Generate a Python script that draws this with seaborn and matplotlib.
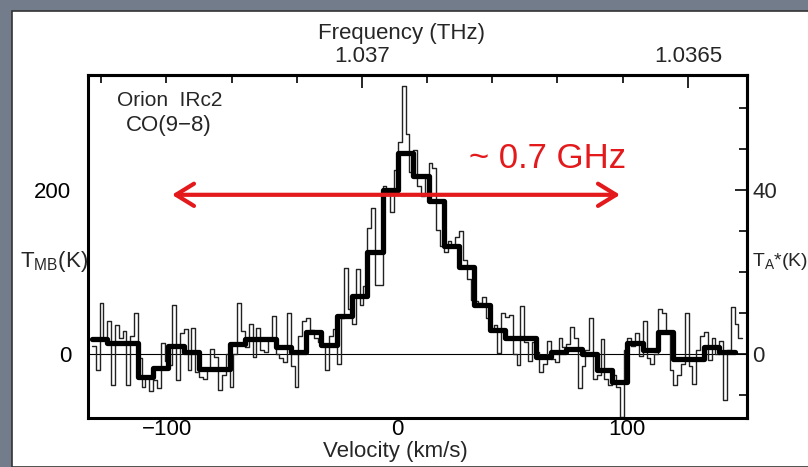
import numpy as np
import pandas as pd
import matplotlib
matplotlib.use("Agg")
import matplotlib.pyplot as plt
from matplotlib.patches import Rectangle
from matplotlib.ticker import FixedLocator, MultipleLocator
import seaborn as sns

# ---------------- data ----------------
# smoothed spectrum: channels of equal width, starting at smooth_start (km/s)
smooth_start = -132.6
smooth_width = 6.652
smooth_T = [18, 14, 14, -28, -17, 10, 3, -18, -18, 12, 18, 18, 9, 2,
            27, 11, 46, 71, 124, 200, 245, 217, 186, 132, 106, 60, 29, 20,
            20, -4, 2, 6, 0, -19, -34, 13, 5, 27, -6, -6, 9, 3]

# full-resolution spectrum: 4 channels per smoothed channel (+2 at the end)
raw_width = smooth_width / 4
raw_T = [10, -20, 62, 20,   40, -38, 35, 20,   28, -38, 22, 50,   -5, -40, -28, -45,
         -32, -42, 14, -8,  -13, 60, -32, 25,  30, -20, 32, -22,  -28, -30, -20, 6,
         -4, -44, -25, 0,   -40, 0, 62, 28,    8, 36, -4, 32,     5, 3, 18, 46,
         0, -5, -10, 50,    -15, -40, 22, 40,  44, 29, 20, 15,    10, -19, 22, 31,
         -12, 44, 105, 55,  37, 103, 60, 83,   153, 178, 84, 84,  205, 198, 173, 224,
         258, 327, 268, 222, 248, 205, 192, 215, 233, 227, 151, 132, 124, 138, 130, 142,
         150, 115, 92, 66,  64, 62, 70, 44,    30, 35, 1, 50,     45, 48, 0, -13,
         58, 15, -8, 15,    2, -22, -12, 16,   -6, -10, 19, 8,    12, 33, 20, -41,
         -15, 5, 44, -30,   -25, 18, -30, -38, -25, -40, -77, 5,  19, 10, 26, -3,
         40, -5, -12, 0,    55, 50, 25, -20,   -38, -25, -12, 50, -15, -36, 5, 22,
         27, -7, 20, 0,     16, -56, 5, 57,    36, 20]

# axes ranges and ticks
vel_lim = (-134.3, 152.2)
tmb_lim = (-78, 340)
vel_major = [-100, 0, 100]
vel_labels = ["\u2212100", "0", "100"]
tmb_major = [0, 200]
ta_major = [0, 40]
freq_major = [1.0365, 1.037]
freq_labels = ["1.0365", "1.037"]
freq_ref = 1.037      # THz at velocity freq_ref_v
freq_ref_v = -15.2    # km/s
freq_per_kms = 3.529e-6  # THz per km/s
ta_factor = 5.0       # T_MB = 5 * T_A*

arrow_v = (-97.8, 97.0)
arrow_T = 194
note_text = "~ 0.7 GHz"

# ---------------- style ----------------
sns.set_style("white")
plt.rcParams["font.family"] = ["Liberation Sans", "DejaVu Sans"]
plt.rcParams["mathtext.fontset"] = "custom"
plt.rcParams["mathtext.rm"] = "Liberation Sans"
plt.rcParams["mathtext.it"] = "Liberation Sans:italic"

W, H = 808, 467
fig = plt.figure(figsize=(W / 100, H / 100), dpi=100, facecolor="#737c8a")

def fx(x):
    return x / W

def fy(y):
    return 1 - y / H

fig.patches.append(Rectangle((fx(12), 0), 1, fy(11), transform=fig.transFigure,
                             facecolor="white", edgecolor="#333333", lw=1.2, zorder=-5))

ax = fig.add_axes([fx(88), fy(418), (747 - 88) / W, (418 - 75) / H])
ax.set_facecolor("none")
ax.set_zorder(2)

raw_edges = smooth_start + raw_width * np.arange(len(raw_T) + 1)
raw_df = pd.DataFrame({"v": raw_edges, "T": list(raw_T) + [raw_T[-1]]})
sm_edges = smooth_start + smooth_width * np.arange(len(smooth_T) + 1)
sm_df = pd.DataFrame({"v": sm_edges, "T": list(smooth_T) + [smooth_T[-1]]})

ax.axhline(0, color="black", lw=0.8, zorder=1)
sns.lineplot(data=raw_df, x="v", y="T", drawstyle="steps-post", color="#222222",
             lw=1.0, estimator=None, ax=ax, zorder=2)
sns.lineplot(data=sm_df, x="v", y="T", drawstyle="steps-post", color="black",
             lw=3.8, estimator=None, ax=ax, zorder=3)

ax.set_xlim(*vel_lim)
ax.set_ylim(*tmb_lim)
ax.set_xlabel("")
ax.set_ylabel("")

for s in ax.spines.values():
    s.set_linewidth(2.2)
    s.set_color("black")

ax.xaxis.set_major_locator(FixedLocator(vel_major))
ax.set_xticklabels(vel_labels)
ax.xaxis.set_minor_locator(MultipleLocator(20))
ax.yaxis.set_major_locator(FixedLocator(tmb_major))
ax.yaxis.set_minor_locator(MultipleLocator(50))
ax.tick_params(axis="both", which="both", direction="in", top=False, right=False,
               labelsize=16, colors="black", width=1.4)
ax.tick_params(axis="both", which="major", length=9)
ax.tick_params(axis="both", which="minor", length=6)
ax.tick_params(axis="x", which="major", pad=1)
ax.tick_params(axis="y", which="major", pad=12)

# top: frequency
def v2f(v):
    return freq_ref - (np.asarray(v) - freq_ref_v) * freq_per_kms

def f2v(f):
    return freq_ref_v + (freq_ref - np.asarray(f)) / freq_per_kms

sec_top = ax.secondary_xaxis("top", functions=(v2f, f2v))
sec_top.xaxis.set_major_locator(FixedLocator(freq_major))
sec_top.set_xticklabels(freq_labels)
sec_top.xaxis.set_minor_locator(MultipleLocator(0.0001))
sec_top.tick_params(which="both", direction="in", labelsize=16, width=1.4, pad=6)
sec_top.tick_params(which="major", length=9)
sec_top.tick_params(which="minor", length=6)
sec_top.spines["top"].set_linewidth(2.2)

# right: antenna temperature
sec_r = ax.secondary_yaxis("right", functions=(lambda t: np.asarray(t) / ta_factor,
                                               lambda t: np.asarray(t) * ta_factor))
sec_r.yaxis.set_major_locator(FixedLocator(ta_major))
sec_r.yaxis.set_minor_locator(MultipleLocator(10))
sec_r.tick_params(which="both", direction="in", labelsize=16, width=1.4, pad=4)
sec_r.tick_params(which="major", length=9)
sec_r.tick_params(which="minor", length=6)
sec_r.spines["right"].set_linewidth(2.2)

# labels
fig.text(fx(395), fy(451), "Velocity (km/s)", ha="center", va="center", fontsize=16)
fig.text(fx(402), fy(33), "Frequency (THz)", ha="center", va="center", fontsize=16)
fig.text(fx(20), fy(262), r"T$_\mathrm{MB}$(K)", ha="left", va="center", fontsize=16)
fig.text(fx(752), fy(262), r"T$_\mathrm{A}$*(K)", ha="left", va="center", fontsize=14)
fig.text(fx(170), fy(100), "Orion  IRc2", ha="center", va="center", fontsize=15)
fig.text(fx(169), fy(125), "CO(9\u22128)", ha="center", va="center", fontsize=16)

# red annotation
red = "#e3191c"
ax.annotate("", xy=(arrow_v[1], arrow_T), xytext=(arrow_v[0], arrow_T),
            arrowprops=dict(arrowstyle="<->,head_length=0.65,head_width=0.4",
                            color=red, lw=3.0, mutation_scale=20,
                            shrinkA=0, shrinkB=0), zorder=5)
fig.text(fx(469), fy(168), note_text, ha="left", va="baseline", fontsize=25, color=red)

fig.savefig("out.png", dpi=100, facecolor=fig.get_facecolor())
